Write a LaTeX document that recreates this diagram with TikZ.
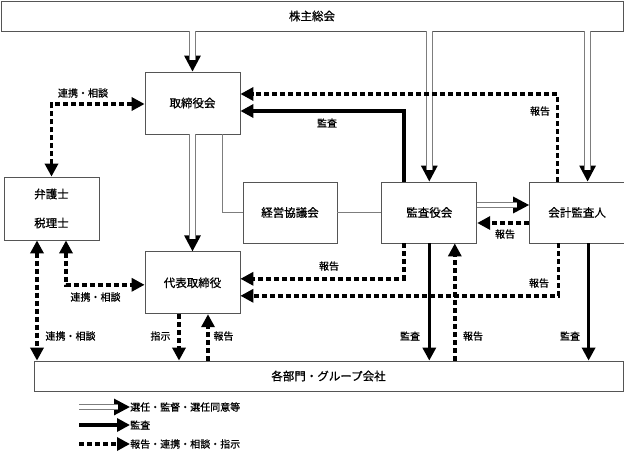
\documentclass[tikz,border=0pt]{standalone}
\usepackage{fontspec}
\setmainfont{Noto Sans CJK JP}[FakeBold=0.7]
\usetikzlibrary{positioning, arrows.meta, calc}
\definecolor{boxline}{RGB}{85,85,85}
\definecolor{selline}{RGB}{125,125,125}
% double-line arrow: black tip underneath, grey double line on top
\newcommand{\selarrow}[2]{%
  \draw[seltip] #1 -- #2;
  \draw[sel] #1 -- ($#2!12pt!#1$);}

\begin{document}
\begin{tikzpicture}[x=1pt, y=-1pt,
  >={Triangle[length=13pt, width=13pt]},
  every node/.style={inner sep=0pt},
  box/.style={draw=boxline, line width=0.8pt, minimum width=95pt,
              minimum height=62pt, align=center,
              font=\fontsize{11.5}{14}\selectfont},
  band/.style={draw=boxline, line width=0.8pt, minimum height=30pt,
               font=\fontsize{11.5}{14}\selectfont},
  lbl/.style={font=\fontsize{10}{12}\selectfont},
  seltip/.style={-{Triangle[length=16pt, width=16pt]}, line width=3pt},
  sel/.style={draw=selline, double=white, double distance=4.5pt,
              line width=1pt},
  aud/.style={->, line width=3.5pt},
  rep/.style={->, line width=3.5pt, dash pattern=on 5pt off 3pt},
  plain/.style={draw=selline, line width=1pt}]
\useasboundingbox (0,0) rectangle (624,452);

% boxes
\node[band, minimum width=622pt] (soukai) at (312,16) {株主総会};
\node[box] (torishimari) at (192.5,103) {取締役会};
\node[box, minimum height=63pt] (bengoshi) at (51.5,208.5) {弁護士\\[15pt]税理士};
\node[box, minimum width=94pt, minimum height=61pt] (keiei) at (290,212.5) {経営協議会};
\node[box, minimum height=61pt, right=44pt of keiei] (kansayaku) {監査役会};
\node[box, minimum height=61pt, right=52pt of kansayaku] (kaikei) {会計監査人};
\node[box, below=117pt of torishimari] (daihyo) {代表取締役};
\node[band, minimum width=589pt] (bumon) at (328.5,376) {各部門・グループ会社};

% election / supervision
\selarrow{(soukai.south -| torishimari.north)}{(torishimari.north)}
\selarrow{(soukai.south -| kansayaku.north)}{(kansayaku.north)}
\selarrow{([xshift=10.5pt]kaikei.north |- soukai.south)}{([xshift=10.5pt]kaikei.north)}
\selarrow{(torishimari.south)}{(daihyo.north)}
\selarrow{([yshift=7.5pt]kansayaku.east)}{([yshift=7.5pt]kaikei.west)}

% plain links
\draw[plain] ([xshift=29.5pt]torishimari.south) |- (keiei.west);
\draw[plain] (keiei.east) -- (kansayaku.west);

% audit
\draw[aud] ([xshift=-25.5pt]kansayaku.north) |- ([yshift=-8pt]torishimari.east);
\draw[aud] (kansayaku.south) -- (kansayaku.south |- bumon.north);
\draw[aud] ([xshift=11.5pt]kaikei.south) -- ([xshift=11.5pt]kaikei.south |- bumon.north);

% reports, liaison
\draw[rep] ([xshift=-19.5pt]kaikei.north) |- ([yshift=9pt]torishimari.east);
\draw[rep] ([yshift=-10.5pt]kaikei.west) -- ([yshift=-10.5pt]kansayaku.east);
\draw[rep] ([xshift=-25.5pt]kansayaku.south) |- ([yshift=4pt]daihyo.east);
\draw[rep] ([xshift=-18.5pt]kaikei.south) |- ([yshift=-13pt]daihyo.east);
\draw[rep] ([xshift=25.5pt]kansayaku.south |- bumon.north) -- ([xshift=25.5pt]kansayaku.south);
\draw[rep] ([xshift=-13.5pt]daihyo.south) -- ([xshift=-13.5pt]daihyo.south |- bumon.north);
\draw[rep] ([xshift=15.5pt]daihyo.south |- bumon.north) -- ([xshift=15.5pt]daihyo.south);
\draw[rep, <->] ([xshift=-14.5pt]bengoshi.south) -- ([xshift=-14.5pt]bengoshi.south |- bumon.north);
\draw[rep, <->] ([xshift=14.5pt]bengoshi.south) |- ([yshift=-2pt]daihyo.west);
\draw[rep, <->] (bengoshi.north) |- ([yshift=-1pt]torishimari.west);

% labels
\node[lbl] (lrenkei1) at (83,93) {連携・相談};
\node[lbl] (lkansa1) at (327,123) {監査};
\node[lbl] (lhoukoku1) at (540,111) {報告};
\node[lbl] (lhoukoku2) at (505,234) {報告};
\node[lbl] (lhoukoku3) at (329,266) {報告};
\node[lbl] (lhoukoku4) at (539,283) {報告};
\node[lbl] (lrenkei2) at (95.5,297) {連携・相談};
\node[lbl] (lrenkei3) at (70.5,336) {連携・相談};
\node[lbl] (lshiji) at (160.5,336) {指示};
\node[lbl] (lhoukoku5) at (223.5,336) {報告};
\node[lbl] (lkansa2) at (410,336) {監査};
\node[lbl] (lhoukoku6) at (473,336) {報告};
\node[lbl] (lkansa3) at (570,336) {監査};

% legend
\node[lbl, anchor=west] (legsel) at (130,407) {選任・監督・選任同意等};
\node[lbl, anchor=west] (legaud) at (130,425) {監査};
\node[lbl, anchor=west] (legrep) at (130,444) {報告・連携・相談・指示};
\coordinate (legselA) at (79,407);
\coordinate (legaudA) at (79,425);
\coordinate (legrepA) at (79,444);
\selarrow{(legselA)}{(legsel.west)}
\draw[aud] (legaudA) -- (legaud.west);
\draw[rep] (legrepA) -- (legrep.west);
\end{tikzpicture}
\end{document}
